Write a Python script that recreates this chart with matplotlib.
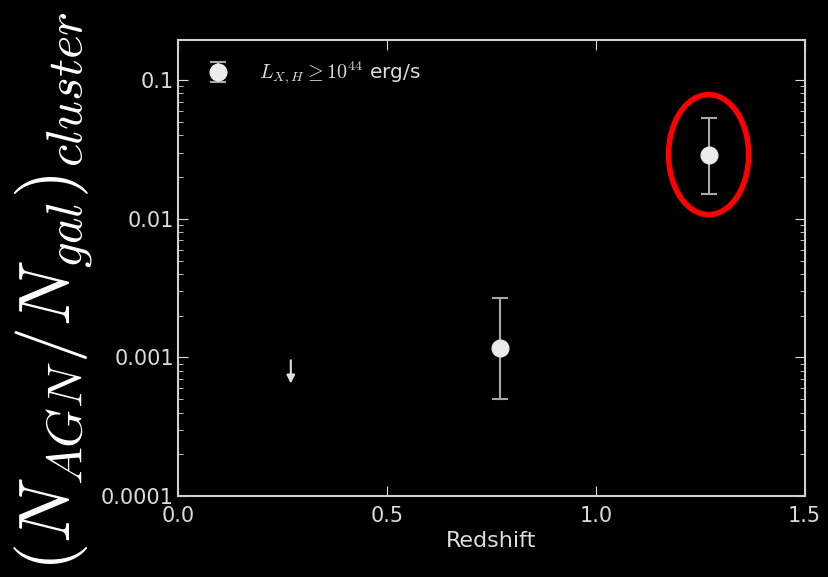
import matplotlib
matplotlib.use("Agg")
import matplotlib.pyplot as plt
from matplotlib.patches import Ellipse
import numpy as np

plt.rcParams['mathtext.fontset'] = 'cm'

# data
z_points = [0.77, 1.27]
frac_points = [0.00118, 0.029]
err_low = [0.0005, 0.0152]
err_high = [0.0027, 0.053]
z_limit = [0.27]
frac_limit = [0.001]
xticks = [0.0, 0.5, 1.0, 1.5]
xticklabels = ["0.0", "0.5", "1.0", "1.5"]
yticks = [1e-4, 1e-3, 1e-2, 1e-1]
yticklabels = ["0.0001", "0.001", "0.01", "0.1"]

fg = '#dcdcdc'
fig = plt.figure(figsize=(8.29, 5.77), dpi=100, facecolor='black')
ax = fig.add_axes([0.2147, 0.140, 0.756, 0.791], facecolor='black')

yerr = [np.array(frac_points) - np.array(err_low), np.array(err_high) - np.array(frac_points)]
ax.errorbar(z_points, frac_points, yerr=yerr, fmt='o', color='#ebebeb', ecolor='#a8a8a8',
            markersize=12, elinewidth=1.5, capsize=6, capthick=1.5,
            label=r'$L_{X,H} \geq 10^{44}$ erg/s', zorder=3)
# upper limit arrow
for xz, yf in zip(z_limit, frac_limit):
    ax.annotate('', xy=(xz, yf * 0.62), xytext=(xz, yf),
                arrowprops=dict(arrowstyle='-|>', color='#e0e0e0', lw=1.5, mutation_scale=12))

ax.set_yscale('log')
ax.set_xlim(0, 1.5)
ax.set_ylim(1e-4, 0.195)
ax.set_xticks(xticks)
ax.set_xticklabels(xticklabels)
ax.set_yticks(yticks)
ax.set_yticklabels(yticklabels)
ax.tick_params(which='both', direction='in', top=True, right=True, colors=fg, labelsize=15)
ax.tick_params(axis='x', pad=7)
ax.tick_params(axis='y', pad=3)
ax.tick_params(which='major', length=7)
ax.tick_params(which='minor', length=3.5)
for s in ax.spines.values():
    s.set_color('#d0d0d0')
    s.set_linewidth(1.5)
ax.set_xlabel('Redshift', color=fg, fontsize=16, labelpad=4)

leg = ax.legend(loc='upper left', frameon=False, fontsize=14.5, numpoints=1,
                handletextpad=1.0, borderaxespad=0.6)
for t in leg.get_texts():
    t.set_color(fg)

fig.text(54 / 829, 0.495, r'$(N_{AGN}/N_{gal})_{cluster}$', rotation=90, color='white',
         fontsize=52, ha='center', va='center')

# red highlight ellipse around the high-redshift point
ell_center = ax.transData.transform((z_points[1], frac_points[1]))
ell = Ellipse(ell_center, 80, 120, transform=None, fill=False, edgecolor='#ff0000', lw=4, zorder=5)
fig.patches.append(ell)

fig.savefig('out.png', dpi=100, facecolor='black')
